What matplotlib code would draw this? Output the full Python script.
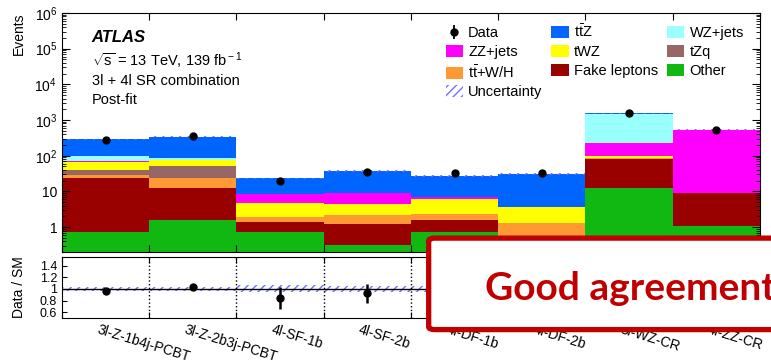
import numpy as np
import matplotlib.pyplot as plt
from matplotlib.patches import Patch, FancyBboxPatch
from matplotlib.ticker import FixedLocator, LogLocator, NullFormatter, FuncFormatter

plt.rcParams['font.family'] = ['Liberation Sans', 'DejaVu Sans']
plt.rcParams['mathtext.fontset'] = 'custom'
plt.rcParams['mathtext.rm'] = 'Liberation Sans'
plt.rcParams['mathtext.it'] = 'Liberation Sans:italic'
plt.rcParams['hatch.linewidth'] = 1.0

# regions
regions = ["3l-Z-1b4j-PCBT", "3l-Z-2b3j-PCBT", "4l-SF-1b", "4l-SF-2b",
           "4l-DF-1b", "4l-DF-2b", "3l-WZ-CR", "4l-ZZ-CR"]

# post-fit yields per process (stacked bottom -> top)
other = [0.74, 1.57, 0.74, 0.32, 0.71, 0.30, 12.4, 1.05]
fake = [22.3, 10.8, 0.61, 0.88, 0.89, 0.20, 67.6, 8.05]
ttwh = [6.0, 10.6, 0.59, 1.0, 0.67, 0.80, 4.0, 0.05]
tzq = [11.0, 29.0, 0.02, 0.02, 0.02, 0.01, 2.0, 0.02]
twz = [25.0, 23.0, 2.66, 2.2, 3.8, 2.4, 13.0, 0.1]
zzjets = [7.0, 3.0, 3.6, 4.5, 1.0, 0.02, 135.0, 520.0]
wzjets = [28.0, 9.0, 0.1, 0.05, 0.03, 0.01, 1285.0, 0.5]
ttz = [190.0, 253.0, 14.7, 29.0, 20.3, 26.8, 10.0, 1.0]

data = [280, 352, 19.5, 35, 33, 33, 1550, 540]
rel_unc = [0.03, 0.03, 0.06, 0.05, 0.05, 0.05, 0.03, 0.03]

stack = [
    (other, "Other", "#12b812"),
    (fake, "Fake leptons", "#990000"),
    (ttwh, r"t$\bar{\rm t}$+W/H", "#ff9933"),
    (tzq, "tZq", "#996666"),
    (twz, "tWZ", "#ffff00"),
    (zzjets, "ZZ+jets", "#ff00ff"),
    (wzjets, "WZ+jets", "#99ffff"),
    (ttz, r"t$\bar{\rm t}$Z", "#0064ff"),
]

nbins = len(regions)
centers = np.arange(nbins) + 0.5
edges = np.arange(nbins + 1)

fig = plt.figure(figsize=(7.71, 3.63), dpi=100)
ax = fig.add_axes([0.0804, 0.3058, 0.9053, 0.6584])
rax = fig.add_axes([0.0804, 0.124, 0.9053, 0.168])

bottom = np.zeros(nbins)
patches = {}
for vals, label, color in stack:
    vals = np.array(vals)
    ax.bar(centers, vals, bottom=bottom, width=1.0, color=color, lw=0)
    patches[label] = Patch(facecolor=color, edgecolor='none')
    bottom = bottom + vals
total = bottom

unc = np.array(rel_unc) * total
ax.bar(centers, 2 * unc, bottom=total - unc, width=1.0, fill=False,
       hatch='////', edgecolor='#6f6fff', lw=0)

data = np.array(data, dtype=float)
derr = np.sqrt(data)
dat = ax.errorbar(centers, data, yerr=derr, fmt='o', color='black',
                  ms=5, elinewidth=1.3, capsize=0)

ax.set_yscale('log')
ax.set_ylim(0.2, 1e6)
ax.set_xlim(0, nbins)


def log_fmt(v, pos):
    if abs(v - 1) < 1e-9:
        return "1"
    if abs(v - 10) < 1e-9:
        return "10"
    return r"$10^{%d}$" % int(round(np.log10(v)))


ax.yaxis.set_major_locator(FixedLocator([1, 10, 1e2, 1e3, 1e4, 1e5, 1e6]))
ax.yaxis.set_major_formatter(FuncFormatter(log_fmt))
ax.yaxis.set_minor_locator(LogLocator(base=10, subs=np.arange(2, 10)))
ax.yaxis.set_minor_formatter(NullFormatter())
ax.set_xticks(edges)
ax.set_xticklabels([])
ax.tick_params(which='both', direction='in', top=True, right=True, labelsize=10)
ax.tick_params(which='major', length=6)
ax.tick_params(which='minor', length=3)
ax.tick_params(axis='x', length=5)
ax.set_ylabel("Events", fontsize=10, loc='top')
ax.yaxis.set_label_coords(-0.052, 1.0)

# ratio panel
ratio = data / total
rerr = derr / total
ru = np.array(rel_unc)
rax.axhline(1.0, color='black', lw=1)
rax.bar(centers, 2 * ru, bottom=1 - ru, width=1.0, fill=False,
        hatch='////', edgecolor='#6f6fff', lw=0)
for e in edges[1:-1]:
    rax.axvline(e, color='black', ls=':', lw=1)
rax.errorbar(centers, ratio, yerr=rerr, fmt='o', color='black',
             ms=5, elinewidth=1.8, capsize=0)
rax.set_xlim(0, nbins)
rax.set_ylim(0.5, 1.55)
rax.set_yticks([0.6, 0.8, 1.0, 1.2, 1.4])
rax.set_yticklabels(["0.6", "0.8", "1", "1.2", "1.4"])
rax.set_xticks(edges)
rax.set_xticklabels([])
rax.tick_params(which='both', direction='in', top=True, right=True, labelsize=9)
rax.tick_params(axis='x', length=4)
rax.set_ylabel("Data / SM", fontsize=10)
rax.yaxis.set_label_coords(-0.052, 0.5)

for c, name in zip(centers, regions):
    rax.text(c - 0.07, -0.08, name, transform=rax.get_xaxis_transform(),
             rotation=-17, rotation_mode='anchor', ha='left', va='top',
             fontsize=10)

# labels
fig.text(0.119, 0.898, "ATLAS", fontsize=12, fontweight='bold', style='italic',
         va='center')
fig.text(0.119, 0.832, r"$\sqrt{\rm s}$ = 13 TeV, 139 fb$^{\rm -1}$", fontsize=10.5,
         va='center')
fig.text(0.119, 0.777, "3l + 4l SR combination", fontsize=10.5, va='center')
fig.text(0.119, 0.724, "Post-fit", fontsize=10.5, va='center')

unc_patch = Patch(facecolor='none', edgecolor='#6f6fff', hatch='////', lw=0)
handles = [dat, patches["ZZ+jets"], patches[r"t$\bar{\rm t}$+W/H"], unc_patch,
           patches[r"t$\bar{\rm t}$Z"], patches["tWZ"], patches["Fake leptons"],
           patches["WZ+jets"], patches["tZq"], patches["Other"]]
labels = ["Data", "ZZ+jets", r"t$\bar{\rm t}$+W/H", "Uncertainty",
          r"t$\bar{\rm t}$Z", "tWZ", "Fake leptons",
          "WZ+jets", "tZq", "Other"]
fig.legend(handles, labels, ncol=3, frameon=False, fontsize=10.5,
           loc='upper left', bbox_to_anchor=(0.578, 0.935),
           handlelength=1.2, handleheight=0.9, handletextpad=0.35,
           columnspacing=0.6, labelspacing=0.32, borderaxespad=0, borderpad=0)

# callout box
box = FancyBboxPatch((0.556, 0.092), 0.5, 0.252, transform=fig.transFigure,
                     boxstyle="round,pad=0,rounding_size=0.008",
                     facecolor='white', edgecolor='#c00000', lw=3.8,
                     zorder=10, clip_on=False)
fig.patches.append(box)
fig.text(0.629, 0.205, "Good agreement", fontsize=28, fontweight='bold',
         family=['Lato', 'DejaVu Sans'], color='#c00000', va='center',
         zorder=11)

plt.savefig("out.png", dpi=100)
